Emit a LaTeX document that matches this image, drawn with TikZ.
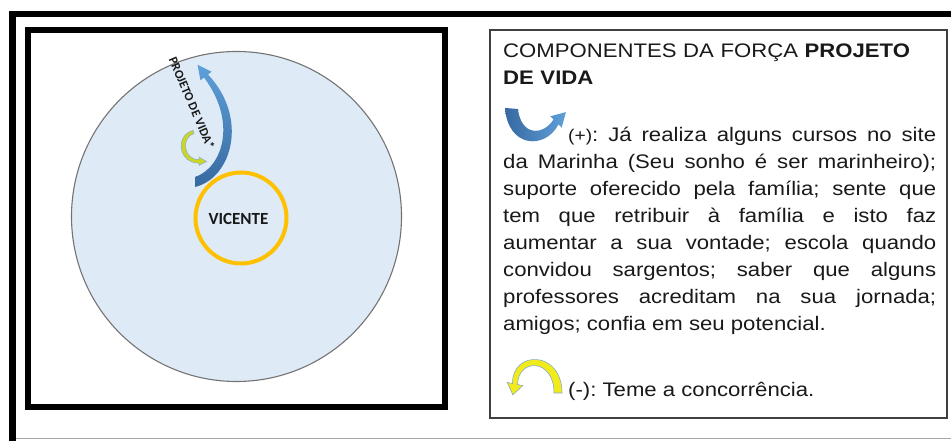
\documentclass[tikz,border=0pt]{standalone}
\usepackage{fontspec}
\setmainfont{Liberation Sans}
\newfontfamily\boxfont[FakeStretch=1.13]{Liberation Sans}
\newfontfamily\calfont{Carlito}
\usepackage{tikz}
\usetikzlibrary{positioning}
\usepackage{xcolor}
\definecolor{fieldbg} {RGB}{222,234,246}
\definecolor{selfring}{RGB}{255,192,  0}
\definecolor{upblue}  {RGB}{ 95,160,218}
\definecolor{upbluedk}{RGB}{ 55,105,160}
\definecolor{limey}   {RGB}{205,215, 35}
\definecolor{downyel} {RGB}{240,235, 25}
\definecolor{edgeblue}{RGB}{135,170,210}
\frenchspacing
\tikzset{
  outerframe/.style={draw=black,line width=6.5pt},
  innerframe/.style={draw=black,line width=6pt},
  textframe/.style ={draw=black!75,line width=1.3pt},
  field/.style     ={circle,draw=black!55,line width=1.1pt,fill=fieldbg,
                     minimum size=330pt,inner sep=0pt},
  self/.style      ={circle,draw=selfring,line width=4pt,
                     minimum size=91pt,inner sep=0pt},
  tag/.style       ={font=\calfont\bfseries,text=black!90,inner sep=0pt},
  txt/.style       ={font=\boxfont\fontsize{19.6}{27}\selectfont,
                     text=black!90,inner sep=0pt},
  body/.style      ={txt,text width=433pt,align=justify},
  upshade/.style   ={top color=upblue,bottom color=upbluedk},
  limearr/.style   ={fill=limey,draw=edgeblue,line width=0.5pt},
  downarr/.style   ={fill=downyel,draw=edgeblue,line width=0.6pt},
}

\begin{document}
\begin{tikzpicture}[x=1pt,y=1pt]
  \useasboundingbox (0,0) rectangle (951,441);
  \clip (0,0) rectangle (951,441);
  % frames
  \draw[outerframe] (12.5,-10) -- (12.5,427) -- (970,427);
  \draw[black!35,line width=1pt] (16,2) -- (951,2);
  \draw[innerframe] (28.3,410.5) rectangle (445,34);
  \draw[textframe] (490,411) rectangle (947,23);

  % left diagram
  \node[field] (force) at (236.5,224.5) {};
  \node[self]  (ring)  at (241,223) {};
  \node[tag,font=\calfont\bfseries\fontsize{17}{17}\selectfont]
               (name)  at (238.5,222) {VICENTE};
  \node[tag,font=\calfont\bfseries\fontsize{12.5}{12.5}\selectfont,rotate=-66.7]
               (label) at (192,338) {PROJETO DE VIDA*};
  \shade[upshade] (195,254) .. controls (232,263) and (249,323) .. (208,366.5)
    -- (211.6,369.2) -- (197.6,376.2) -- (200.4,360.8) -- (204,363.5)
    .. controls (238,318) and (222,273) .. (195,264) -- cycle;
  \filldraw[limearr] (193,310.5) .. controls (175,306) and (178,278) .. (199,277.8)
    -- (199,275.5) -- (206.5,279.5) -- (199,284) -- (199,281.4)
    .. controls (183,281) and (181,304) .. (194,307.5) -- cycle;

  % right text box
  \node[txt,text width=440pt,align=left,anchor=base west]
       (title) at (503,383) {COMPONENTES DA FORÇA \textbf{PROJETO}\\\textbf{DE VIDA}};
  \shade[left color=upbluedk,right color=upblue]
    (505,333) .. controls (508,293) and (545,291) .. (558.5,316.5)
    -- (561.7,313.3) -- (565.9,328.9) -- (550.3,324.7) -- (553.5,321.5)
    .. controls (543,305) and (521,305) .. (518,332) -- cycle;
  \node[body,anchor=base west] (plus) at (503,299)
    {\hspace*{65pt}{\fontsize{17}{27}\selectfont(+)}: Já realiza alguns cursos no site\linebreak
     da Marinha (Seu sonho é ser marinheiro);\linebreak
     suporte oferecido pela família; sente que\linebreak
     tem que retribuir à família e isto faz\linebreak
     aumentar a sua vontade; escola quando\linebreak
     convidou sargentos; saber que alguns\linebreak
     professores acreditam na sua jornada;\linebreak
     amigos; confia em seu potencial.};
  \filldraw[downarr] (562,48) .. controls (562,91) and (512,91) .. (512.5,57.5)
    -- (507.2,58.6) -- (512.8,46.2) -- (522.8,55.4) -- (517.5,56.5)
    .. controls (518,83) and (554,83) .. (554,48) -- cycle;
  \node[txt,anchor=base west] (minus) at (568,44) {(-): Teme a concorrência.};
\end{tikzpicture}
\end{document}
